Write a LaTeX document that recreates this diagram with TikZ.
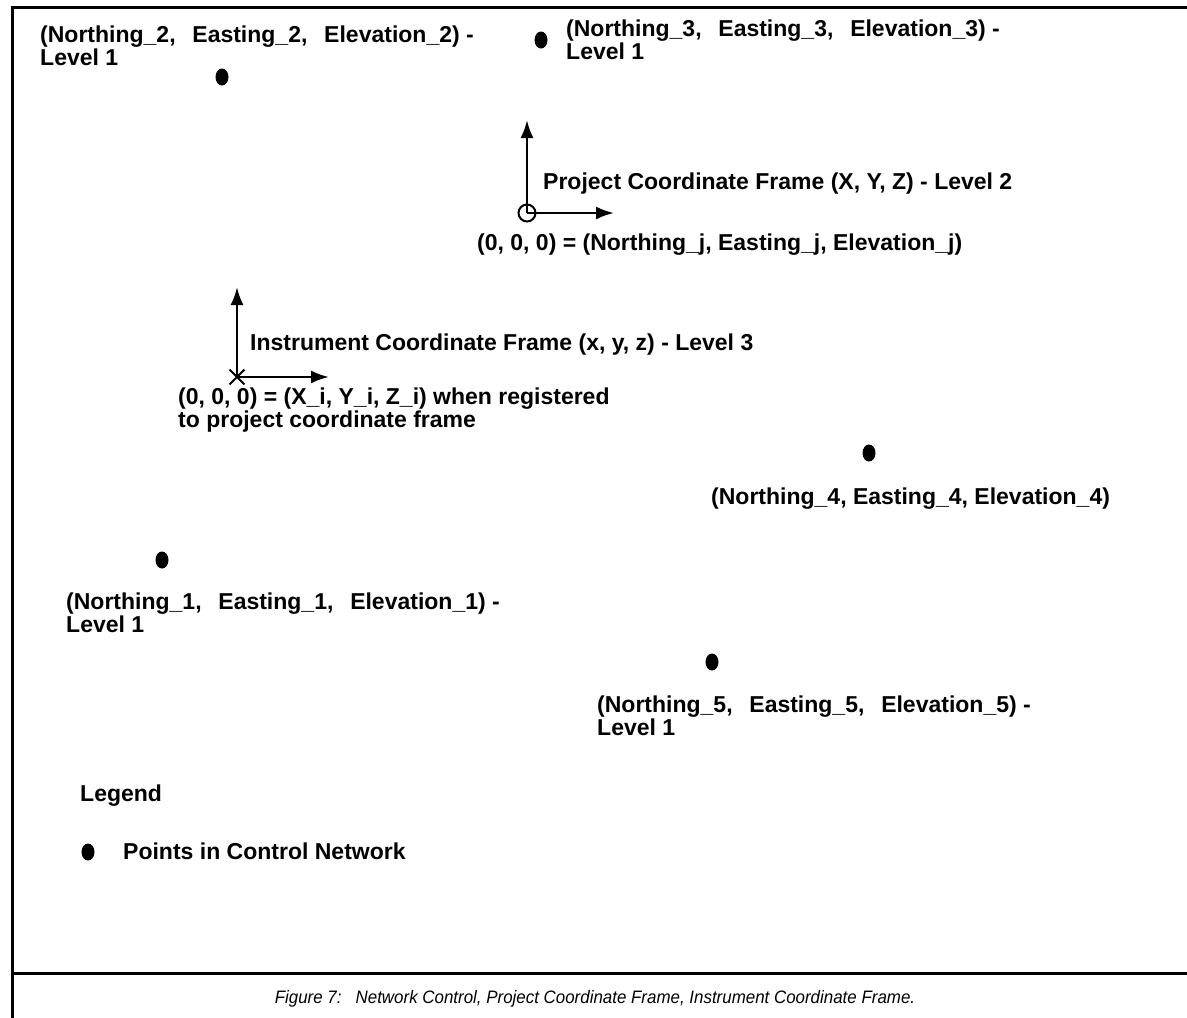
\documentclass[tikz,border=0pt]{standalone}
\usepackage{fontspec}
\setmainfont{Liberation Sans}
\usetikzlibrary{arrows.meta,shapes.geometric,shapes.misc}
\newcommand{\dblsp}{\ \ \kern4pt}
\begin{document}
\begin{tikzpicture}[x=1pt,y=-1pt,
  lbl/.style={inner sep=0pt, anchor=base west, align=left, font=\fontsize{23}{21.5}\selectfont\bfseries},
  dot/.style={ellipse, fill=black, minimum width=13pt, minimum height=17pt, inner sep=0pt},
  axis/.style={line width=2.5pt, -{Latex[length=18pt,width=13pt]}},
  frameline/.style={line width=3pt},
  caption/.style={inner sep=0pt, anchor=base, font=\fontsize{18}{20}\selectfont\itshape}]
\useasboundingbox (0,0) rectangle (1187,1018);
% frame
\draw[frameline] (11,7) -- (1187,7);
\draw[frameline] (12.5,7) -- (12.5,1018);
\draw[frameline] (12.5,973) -- (1187,973);
% control points (two-line labels: base anchor = last line)
\node[dot] (p2) at (222,77) {};
\node[lbl] (l2) at (40,65.5) {(Northing\_2,\dblsp Easting\_2,\dblsp Elevation\_2) -\\Level 1};
\node[dot] (p3) at (541,40) {};
\node[lbl] (l3) at (566,59.5) {(Northing\_3,\dblsp Easting\_3,\dblsp Elevation\_3) -\\Level 1};
\node[dot] (p4) at (869,453) {};
\node[lbl] (l4) at (711,504) {(Northing\_4, Easting\_4, Elevation\_4)};
\node[dot] (p1) at (162,560) {};
\node[lbl] (l1) at (66,632.5) {(Northing\_1,\dblsp Easting\_1,\dblsp Elevation\_1) -\\Level 1};
\node[dot] (p5) at (712,662) {};
\node[lbl] (l5) at (597,735.5) {(Northing\_5,\dblsp Easting\_5,\dblsp Elevation\_5) -\\Level 1};
% project frame
\node[circle, draw, line width=2pt, minimum size=17pt, inner sep=0pt] (po) at (527,213) {};
\coordinate (pY) at (527,120);
\coordinate (pX) at (614,213);
\draw[axis] (po.center) -- (pY);
\draw[axis] (po.center) -- (pX);
\node[lbl] (plab) at (543,189) {Project Coordinate Frame (X, Y, Z) - Level 2};
\node[lbl] (porig) at (477,250) {(0, 0, 0) = (Northing\_j, Easting\_j, Elevation\_j)};
% instrument frame
\node[cross out, draw, line width=1.8pt, minimum size=13pt, inner sep=0pt] (io) at (237,377) {};
\coordinate (iY) at (237,287);
\coordinate (iX) at (329,377);
\draw[axis] (io.center) -- (iY);
\draw[axis] (io.center) -- (iX);
\node[lbl] (ilab) at (250,350) {Instrument Coordinate Frame (x, y, z) - Level 3};
\node[lbl] (iorig) at (178,427.5) {(0, 0, 0) = (X\_i, Y\_i, Z\_i) when registered\\to project coordinate frame};
% legend
\node[lbl] (leg) at (80,801) {Legend};
\node[dot] (lp) at (88,852) {};
\node[lbl] (legtxt) at (123,859) {Points in Control Network};
% caption
\node[caption, xscale=0.94] (cap) at (595,1003) {Figure 7:\ \ \ Network Control, Project Coordinate Frame, Instrument Coordinate Frame.};
\end{tikzpicture}
\end{document}
